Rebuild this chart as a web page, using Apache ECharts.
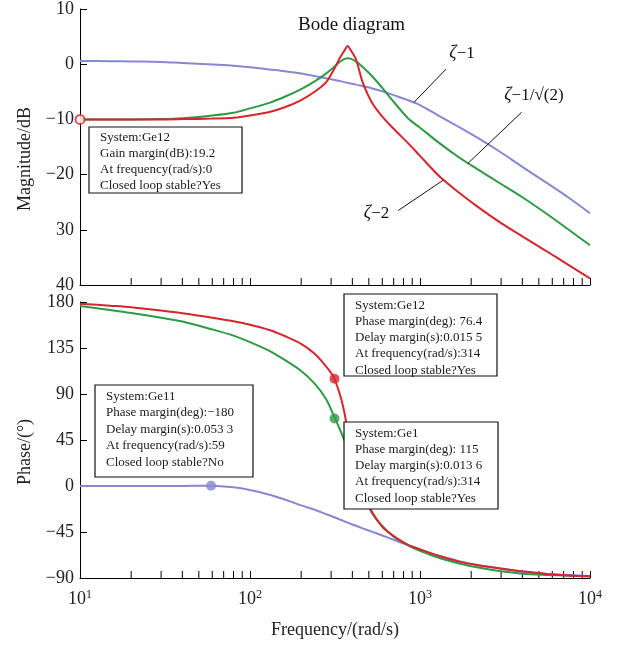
<!DOCTYPE html>
<html>
<head>
<meta charset="utf-8">
<title>Bode diagram</title>
<script src="https://cdn.jsdelivr.net/npm/echarts@6/dist/echarts.min.js"></script>
<style>
  html, body { margin: 0; padding: 0; background: #fff; }
  #chart { width: 620px; height: 646px; }
</style>
</head>
<body>
<div id="chart"></div>
<script>
// frequency samples (rad/s), shared by all curves
var freqs = [10, 15, 20, 30, 40, 60, 80, 100, 130, 160, 200, 240, 280, 310, 340, 360, 375, 390,
  420, 460, 520, 600, 700, 850, 1000, 1300, 1700, 2200, 3000, 4000, 5500, 7500, 10000]

// magnitude (dB)
var magZeta1 = [0.6, 0.55, 0.5, 0.42, 0.21, -0.06, -0.26, -0.55, -0.95, -1.26, -1.67, -2.14, -2.55, -2.8, -3.07, -3.25, -3.37, -3.5,
  -3.7, -3.98, -4.35, -4.9, -5.6, -6.5, -7.4, -9.4, -11.4, -13.4, -16.0, -18.6, -21.4, -24.2, -27.0]
var magZetaHalf = [-10, -10, -10, -9.95, -9.8, -9.3, -8.8, -8.0, -7.0, -5.9, -4.5, -3.1, -1.7, -0.6, 0.5, 0.95, 1.1, 1.0,
  0.5, -0.5, -2.1, -4.3, -6.8, -9.8, -11.5, -14.3, -16.9, -19.1, -21.7, -24.1, -27.0, -30.0, -32.8]
var magZeta2 = [-10, -10, -10, -10, -9.95, -9.85, -9.7, -9.3, -8.65, -7.8, -6.5, -5.0, -3.3, -1.1, 1.3, 2.5, 3.3, 2.6,
  0.9, -3.3, -6.9, -9.5, -11.7, -14.3, -16.6, -20.3, -23.3, -25.9, -28.8, -31.2, -33.8, -36.4, -38.8]

// phase (deg)
var phaseZeta1 = [0, 0, 0, 0, 0.1, 0.3, -1.3, -4, -8.5, -13.2, -19, -23.3, -27.5, -30.3, -33, -34.6, -35.8, -36.9,
  -38.9, -41.4, -44.6, -48.4, -52.6, -57.8, -62, -68.5, -73.5, -77.5, -81, -83.8, -85.8, -87, -88]
var phaseZetaHalf = [176, 172.2, 169.3, 164.6, 160.9, 153.2, 147.1, 140.8, 132.2, 123.3, 112.5, 100.1, 85.1, 69.5, 54.3, 44.4, 36.2, 28.6,
  14.4, -3.4, -26, -39, -49.5, -58, -63.5, -70.5, -75.8, -79.8, -83.5, -85.8, -87, -87.8, -88.5]
var phaseZeta2 = [178.4, 176.4, 174.9, 171.6, 169.1, 164.7, 161.2, 157.8, 152.6, 146.7, 139.1, 129.4, 117.1, 106.8, 88, 71, 54, 40,
  16, -5, -25, -40, -49, -57.5, -62, -68.5, -74, -77.5, -80.7, -83.5, -86, -87.5, -88.2]

// data tip points [freq, value]
var gainMarkRed = [[10, -10]]
var phaseMarkRed = [[314, 105]]
var phaseMarkGreen = [[314, 66]]
var phaseMarkPurple = [[59, 0.3]]

// tick labels
var magTickValues = [10, 0, -10, -20, -30, -40]
var magTickLabels = ['10', '0', '−10', '−20', '30', '40']
var phaseTickValues = [180, 135, 90, 45, 0, -45, -90]
var phaseTickLabels = ['180', '135', '90', '45', '0', '−45', '−90']
var minorTickFreqs = [20, 30, 40, 50, 60, 70, 80, 90, 200, 300, 400, 500, 600, 700, 800, 900,
  2000, 3000, 4000, 5000, 6000, 7000, 8000, 9000]

// annotations
var curveLabels = [
  { name: 'ζ−1', coord: [1767, 1.9] },
  { name: 'ζ−1/√(2)', coord: [4680, -5.7] },
  { name: 'ζ−2', coord: [555, -27] }
]
var leaderLines = [
  [[1422, -0.9], [922, -6.9]],
  [[3962, -8.7], [1909, -18.0]],
  [[745, -26.5], [1371, -21.0]]
]
var boxTexts = [
  ['System:Ge12', 'Gain margin(dB):19.2', 'At frequency(rad/s):0', 'Closed loop stable?Yes'],
  ['System:Ge12', 'Phase margin(deg): 76.4', 'Delay margin(s):0.015 5', 'At frequency(rad/s):314', 'Closed loop stable?Yes'],
  ['System:Ge11', 'Phase margin(deg):−180', 'Delay margin(s):0.053 3', 'At frequency(rad/s):59', 'Closed loop stable?No'],
  ['System:Ge1', 'Phase margin(deg): 115', 'Delay margin(s):0.013 6', 'At frequency(rad/s):314', 'Closed loop stable?Yes']
]

var FONT = '"Liberation Serif", "DejaVu Serif", serif'
var PURPLE = '#8787d2'
var GREEN = '#2f9a45'
var RED = '#d5252d'

function pairs(xs, ys) {
  var out = []
  xs.forEach(function (x, i) {
    out.push([x, ys[i]])
  })
  return out
}

function curve(name, grid, values, color) {
  return {
    name: name,
    type: 'line',
    xAxisIndex: grid,
    yAxisIndex: grid,
    data: pairs(freqs, values),
    showSymbol: false,
    smooth: 0.3,
    lineStyle: { width: 2, color: color },
    itemStyle: { color: color },
    z: 3
  }
}

function dots(grid, data, color, hollow) {
  return {
    type: 'scatter',
    xAxisIndex: grid,
    yAxisIndex: grid,
    data: data,
    symbol: hollow ? 'emptyCircle' : 'circle',
    symbolSize: hollow ? 9 : 10,
    clip: false,
    itemStyle: { color: color, borderWidth: hollow ? 1.5 : 0 },
    z: 10
  }
}

function minorTicks(grid, yMin) {
  return {
    type: 'custom',
    xAxisIndex: grid,
    yAxisIndex: grid,
    data: minorTickFreqs.map(function (f) { return [f, yMin] }),
    silent: true,
    renderItem: function (params, api) {
      var p = api.coord([api.value(0), api.value(1)])
      return {
        type: 'line',
        shape: { x1: p[0], y1: p[1], x2: p[0], y2: p[1] - 7 },
        style: { stroke: '#000', lineWidth: 1 }
      }
    },
    z: 2
  }
}

function xAxis(grid, showLabel) {
  return {
    type: 'log',
    logBase: 10,
    gridIndex: grid,
    min: 10,
    max: 10000,
    axisLine: { onZero: false, lineStyle: { color: '#000', width: 1 } },
    axisTick: { inside: true, length: 7, lineStyle: { color: '#000' } },
    splitLine: { show: false },
    axisLabel: {
      show: showLabel,
      margin: 11,
      formatter: function (v) {
        return '{b|10}{s|' + Math.round(Math.log10(v)) + '}'
      },
      rich: {
        b: { fontFamily: FONT, fontSize: 18, color: '#222' },
        s: { fontFamily: FONT, fontSize: 12, color: '#222', padding: [0, 0, 9, 0] }
      }
    },
    name: showLabel ? 'Frequency/(rad/s)' : '',
    nameLocation: 'middle',
    nameGap: 43,
    nameTextStyle: { fontFamily: FONT, fontSize: 18, color: '#222' }
  }
}

function yAxis(grid, min, max, step, values, labels, name) {
  return {
    type: 'value',
    gridIndex: grid,
    min: min,
    max: max,
    interval: step,
    axisLine: { show: true, onZero: false, lineStyle: { color: '#000', width: 1 } },
    axisTick: { show: true, inside: true, length: 7, lineStyle: { color: '#000' } },
    splitLine: { show: false },
    axisLabel: {
      margin: 6,
      fontFamily: FONT,
      fontSize: 18,
      color: '#222',
      formatter: function (v) {
        var i = values.indexOf(v)
        return i < 0 ? '' : labels[i]
      }
    },
    name: name,
    nameLocation: 'middle',
    nameGap: 46,
    nameTextStyle: { fontFamily: FONT, fontSize: 18, color: '#222', padding: [0, 24, 0, 0] }
  }
}

function infoBox(x, y, w, h, lines, lineHeight) {
  return [
    {
      type: 'rect',
      shape: { x: x, y: y, width: w, height: h },
      style: { fill: '#fff', stroke: '#111', lineWidth: 1.2 },
      z: 100
    },
    {
      type: 'text',
      x: x + 11,
      y: y + 3,
      style: {
        text: lines.join('\n'),
        fontFamily: FONT,
        fontSize: 13,
        lineHeight: lineHeight,
        fill: '#1a1a1a'
      },
      z: 101
    }
  ]
}

var chart = echarts.init(document.getElementById('chart'), null, { renderer: 'canvas' })

var purpleMag = curve('ζ=1', 0, magZeta1, PURPLE)
// leader lines and curve labels live on the magnitude plot
purpleMag.markLine = {
  silent: true,
  symbol: ['none', 'none'],
  label: { show: false },
  lineStyle: { color: '#111', width: 1, type: 'solid' },
  data: leaderLines.map(function (l) {
    return [{ coord: l[0] }, { coord: l[1] }]
  })
}
purpleMag.markPoint = {
  silent: true,
  symbol: 'circle',
  symbolSize: 0,
  label: {
    show: true,
    position: 'inside',
    formatter: function (p) {
      return '{z|ζ}{t|' + p.name.slice(1) + '}'
    },
    rich: {
      z: { fontFamily: FONT, fontSize: 18, fontStyle: 'italic', color: '#111' },
      t: { fontFamily: FONT, fontSize: 17, color: '#111' }
    }
  },
  data: curveLabels
}

var graphics = []
graphics = graphics.concat(infoBox(89, 127, 153, 66, boxTexts[0], 16))
graphics = graphics.concat(infoBox(344, 294, 153, 82, boxTexts[1], 16.3))
graphics = graphics.concat(infoBox(95, 385, 158, 92, boxTexts[2], 16.5))
graphics = graphics.concat(infoBox(344, 422, 154, 87, boxTexts[3], 16.3))

var option = {
  backgroundColor: '#ffffff',
  animation: false,
  title: {
    text: 'Bode diagram',
    left: 293,
    top: 11,
    textStyle: { fontFamily: FONT, fontSize: 19, fontWeight: 'normal', color: '#111' }
  },
  grid: [
    { left: 80, right: 30, top: 8, height: 277 },
    { left: 80, right: 30, top: 302, height: 276 }
  ],
  xAxis: [xAxis(0, false), xAxis(1, true)],
  yAxis: [
    yAxis(0, -40, 10, 10, magTickValues, magTickLabels, 'Magnitude/dB'),
    yAxis(1, -90, 180, 45, phaseTickValues, phaseTickLabels, 'Phase/(°)')
  ],
  graphic: graphics,
  series: [
    minorTicks(0, -40),
    minorTicks(1, -90),
    purpleMag,
    curve('ζ=1/√2', 0, magZetaHalf, GREEN),
    curve('ζ=2', 0, magZeta2, RED),
    curve('ζ=1 phase', 1, phaseZeta1, PURPLE),
    curve('ζ=1/√2 phase', 1, phaseZetaHalf, GREEN),
    curve('ζ=2 phase', 1, phaseZeta2, RED),
    dots(0, gainMarkRed, RED, true),
    dots(1, phaseMarkPurple, PURPLE, false),
    dots(1, phaseMarkGreen, GREEN, false),
    dots(1, phaseMarkRed, RED, false)
  ]
}

chart.setOption(option)
</script>
</body>
</html>
